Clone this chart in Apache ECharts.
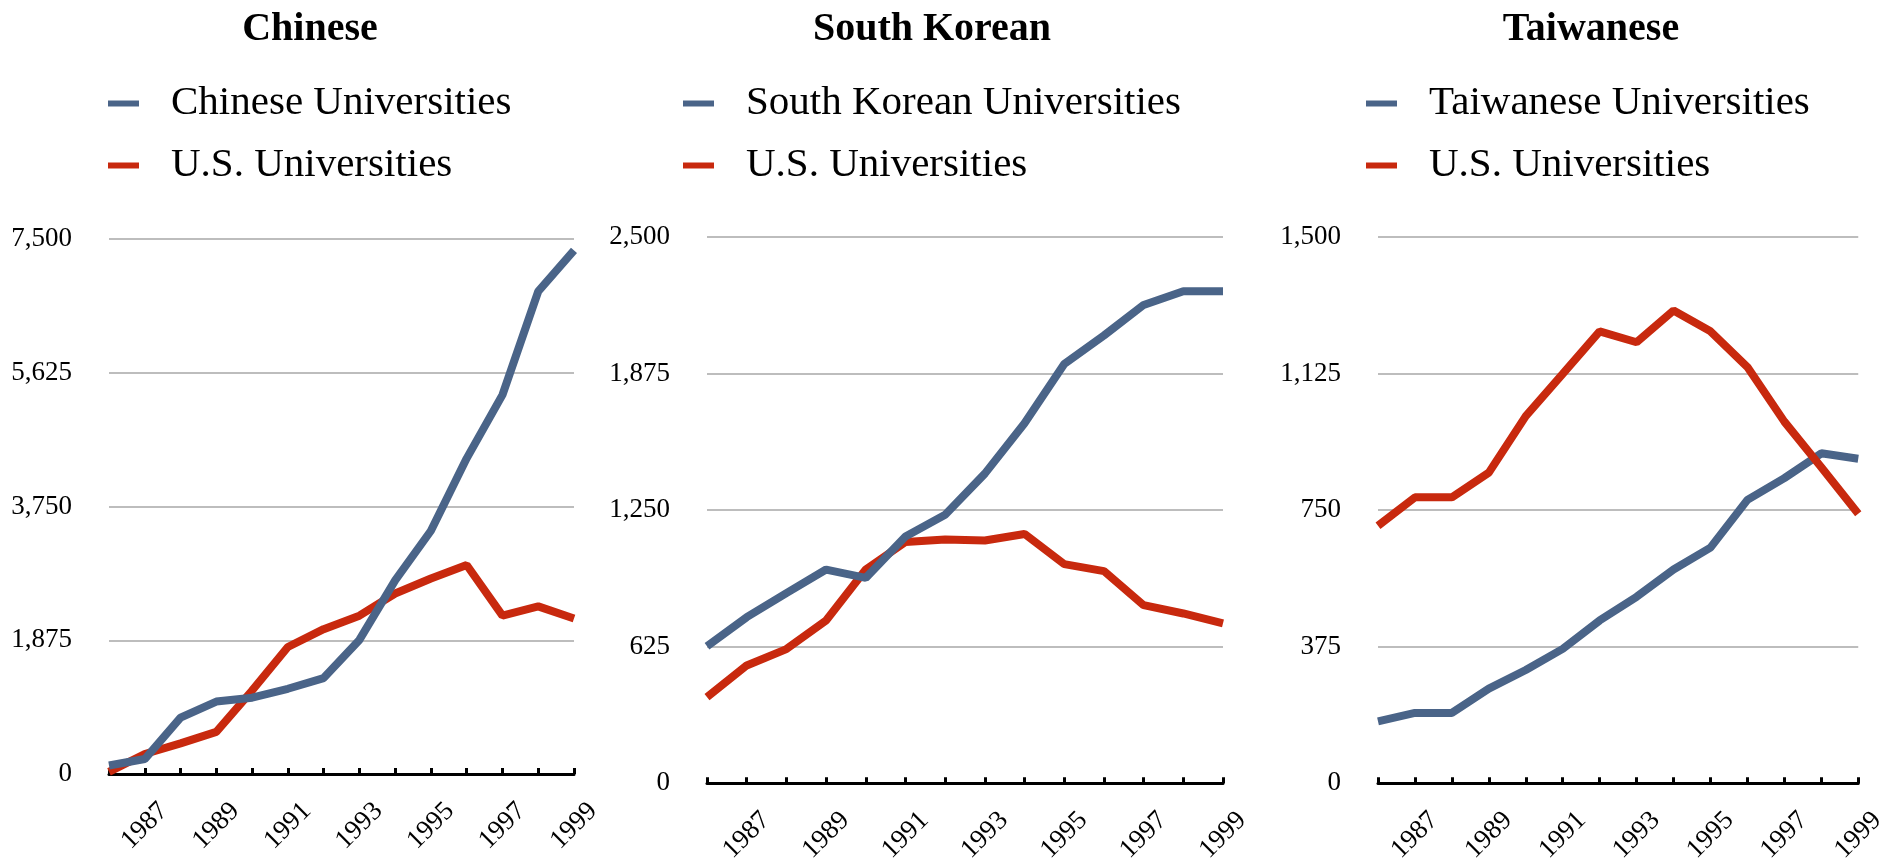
<!DOCTYPE html>
<html>
<head>
<meta charset="utf-8">
<script src="https://cdn.jsdelivr.net/npm/echarts@6/dist/echarts.min.js"></script>
<style>
  html, body { margin: 0; padding: 0; background: #fff; }
  #main { width: 1889px; height: 866px; }
</style>
</head>
<body>
<div id="main"></div>
<script>
var years = ['1986', '1987', '1988', '1989', '1990', '1991', '1992', '1993', '1994', '1995', '1996', '1997', '1998', '1999'];

var chineseUni = [120, 210, 790, 1015, 1070, 1195, 1345, 1880, 2715, 3410, 4425, 5315, 6765, 7340];
var chineseUS = [30, 280, 430, 590, 1170, 1780, 2030, 2220, 2530, 2740, 2930, 2220, 2350, 2180];

var koreanUni = [627, 760, 870, 978, 940, 1129, 1229, 1417, 1648, 1919, 2049, 2189, 2252, 2252];
var koreanUS = [394, 539, 614, 745, 978, 1104, 1116, 1111, 1141, 1003, 971, 815, 777, 732];

var taiwanUni = [170, 193, 193, 260, 311, 369, 447, 512, 587, 647, 778, 838, 906, 891];
var taiwanUS = [707, 785, 785, 853, 1008, 1124, 1241, 1211, 1298, 1241, 1143, 993, 868, 740];

var chineseTicks = [0, 1875, 3750, 5625, 7500];
var koreanTicks = [0, 625, 1250, 1875, 2500];
var taiwanTicks = [0, 375, 750, 1125, 1500];

var blue = '#4a6488';
var red = '#c8290e';
var font = 'Liberation Serif';

var panels = [
  { title: 'Chinese', uniName: 'Chinese Universities', uni: chineseUni, us: chineseUS, ticks: chineseTicks,
    cx: 310, left: 109, width: 465, top: 239, height: 535, legendLeft: 108, usOnTop: false },
  { title: 'South Korean', uniName: 'South Korean Universities', uni: koreanUni, us: koreanUS, ticks: koreanTicks,
    cx: 932, left: 707, width: 516, top: 237, height: 551, legendLeft: 683, usOnTop: false },
  { title: 'Taiwanese', uniName: 'Taiwanese Universities', uni: taiwanUni, us: taiwanUS, ticks: taiwanTicks,
    cx: 1591, left: 1378, width: 481, top: 237, height: 551, legendLeft: 1366, usOnTop: true }
];

var option = {
  animation: false,
  backgroundColor: '#fff',
  title: [], legend: [], grid: [], xAxis: [], yAxis: [], series: []
};

panels.forEach(function (p, i) {
  option.title.push({
    text: p.title,
    left: p.cx,
    top: 10,
    padding: 0,
    textAlign: 'center',
    textStyle: { fontFamily: font, fontSize: 40, fontWeight: 'bold', color: '#000' }
  });
  option.legend.push({
    data: [p.uniName, 'U.S. Universities'],
    orient: 'vertical',
    left: p.legendLeft,
    top: 83,
    padding: 0,
    itemGap: 21,
    itemWidth: 31,
    itemHeight: 6,
    icon: 'rect',
    selectedMode: false,
    textStyle: { fontFamily: font, fontSize: 41, lineHeight: 40, color: '#000', padding: [0, 0, 0, 27] }
  });
  option.grid.push({ left: p.left, top: p.top, width: p.width, height: p.height });
  option.xAxis.push({
    type: 'category',
    gridIndex: i,
    data: years,
    boundaryGap: false,
    axisLine: { lineStyle: { color: '#000', width: 3 } },
    axisTick: { show: true, inside: true, length: 6, interval: 0, lineStyle: { color: '#000', width: 3 } },
    axisLabel: {
      interval: function (idx) { return idx % 2 === 1; },
      rotate: 45,
      align: 'center',
      verticalAlign: 'middle',
      margin: 52,
      fontFamily: font,
      fontSize: 27,
      color: '#000'
    },
    splitLine: { show: false }
  });
  var tk = p.ticks;
  option.yAxis.push({
    type: 'value',
    gridIndex: i,
    min: tk[0],
    max: tk[tk.length - 1],
    interval: tk[1] - tk[0],
    axisLine: { show: false },
    axisTick: { show: false },
    axisLabel: {
      margin: 37,
      fontFamily: font,
      fontSize: 27,
      color: '#000',
      formatter: function (v) { return v.toLocaleString('en-US'); }
    },
    splitLine: { lineStyle: { color: '#bdbdbd', width: 2 } }
  });
  option.series.push({
    name: p.uniName,
    type: 'line',
    xAxisIndex: i,
    yAxisIndex: i,
    data: p.uni,
    showSymbol: false,
    z: p.usOnTop ? 2 : 3,
    color: blue,
    lineStyle: { width: 8, color: blue }
  });
  option.series.push({
    name: 'U.S. Universities',
    type: 'line',
    xAxisIndex: i,
    yAxisIndex: i,
    data: p.us,
    showSymbol: false,
    z: p.usOnTop ? 3 : 2,
    color: red,
    lineStyle: { width: 8, color: red }
  });
});

var chart = echarts.init(document.getElementById('main'));
chart.setOption(option);
</script>
</body>
</html>
